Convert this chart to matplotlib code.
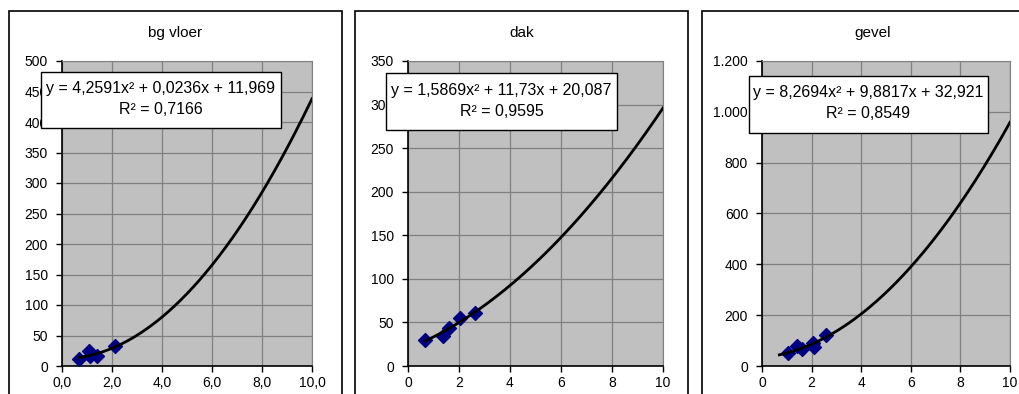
import numpy as np
import matplotlib.pyplot as plt
from matplotlib.patches import Rectangle
from matplotlib.ticker import FuncFormatter

plt.rcParams['font.family'] = ['Liberation Sans', 'DejaVu Sans']

# data
titles = ['bg vloer', 'dak', 'gevel']

x_bg = [0.68, 1.08, 1.10, 1.40, 2.12]
y_bg = [12, 25, 17, 17, 32]

x_dak = [0.68, 1.38, 1.62, 2.05, 2.62]
y_dak = [30, 35, 44, 55, 61]

x_gevel = [1.05, 1.40, 1.60, 2.05, 2.08, 2.60]
y_gevel = [50, 77, 68, 92, 75, 123]

# trendline coefficients (a, b, c) as printed on the chart
coef_bg = [4.2591, 0.0236, 11.969]
coef_dak = [1.5869, 11.73, 20.087]
coef_gevel = [8.2694, 9.8817, 32.921]
r2 = ['0,7166', '0,9595', '0,8549']
eq_txt = ['y = 4,2591x² + 0,0236x + 11,969',
          'y = 1,5869x² + 11,73x + 20,087',
          'y = 8,2694x² + 9,8817x + 32,921']
trend_start = [0.68, 0.68, 0.70]

ymax = [500, 350, 1200]
ystep = [50, 50, 200]

W, H = 1020, 394
fig = plt.figure(figsize=(W / 100, H / 100), dpi=100)

def fx(px):
    return px / W

def fy(py):
    return 1 - py / H

# chart frames (left, right) in pixels
frames = [(9, 342), (355, 688), (702, 1044)]
plots = [(62, 312), (408, 663), (762, 1010)]
boxes = [(41, 281, 72, 128), (386, 617, 73, 130), (749, 988, 76, 133)]

for (l, r) in frames:
    fig.patches.append(Rectangle((fx(l), fy(420)), fx(r - l), fy(11) - fy(420),
                                 transform=fig.transFigure, fill=False,
                                 edgecolor='black', lw=1.2, zorder=0))

series = [(x_bg, y_bg, coef_bg), (x_dak, y_dak, coef_dak), (x_gevel, y_gevel, coef_gevel)]

def comma1(v, p):
    return ('%.1f' % v).replace('.', ',')

def plain(v, p):
    return '%d' % v

def thousands(v, p):
    return '{:,.0f}'.format(v).replace(',', '.')

xfmt = [comma1, plain, plain]
yfmt = [plain, plain, thousands]

for i in range(3):
    l, r = plots[i]
    ax = fig.add_axes([fx(l), fy(366), fx(r - l), fy(61) - fy(366)])
    ax.set_facecolor('#C0C0C0')
    xs, ys, c = series[i]
    ax.set_xlim(0, 10)
    ax.set_ylim(0, ymax[i])
    ax.set_xticks(np.arange(0, 11, 2))
    ax.set_yticks(np.arange(0, ymax[i] + 1, ystep[i]))
    ax.xaxis.set_major_formatter(FuncFormatter(xfmt[i]))
    ax.yaxis.set_major_formatter(FuncFormatter(yfmt[i]))
    ax.grid(True, color='#808080', lw=0.9)
    ax.set_axisbelow(True)
    for s in ['top', 'right']:
        ax.spines[s].set_color('#808080')
    for s in ['left', 'bottom']:
        ax.spines[s].set_color('black')
        ax.spines[s].set_linewidth(1.2)
    ax.tick_params(direction='out', length=4, width=1, labelsize=10, pad=3)
    ax.tick_params(axis='y', pad=6)

    ax.scatter(xs, ys, marker='D', s=50, color='#000080', zorder=3, clip_on=False)
    xt = np.linspace(trend_start[i], 10, 200)
    ax.plot(xt, np.polyval(c, xt), color='black', lw=2, zorder=4)

    fl, fr = frames[i]
    fig.text(fx((fl + fr) / 2), fy(33), titles[i], ha='center', va='center', fontsize=11)

    bl, br, bt, bb = boxes[i]
    fig.patches.append(Rectangle((fx(bl), fy(bb)), fx(br - bl), fy(bt) - fy(bb),
                                 transform=fig.transFigure, facecolor='white',
                                 edgecolor='black', lw=1, zorder=5))
    cx = fx((bl + br) / 2)
    fig.text(cx, fy(bt + 17), eq_txt[i], ha='center', va='center', fontsize=11.5, zorder=6)
    fig.text(cx, fy(bt + 38), 'R² = ' + r2[i], ha='center', va='center', fontsize=11.5, zorder=6)

fig.savefig('out.png', dpi=100)
